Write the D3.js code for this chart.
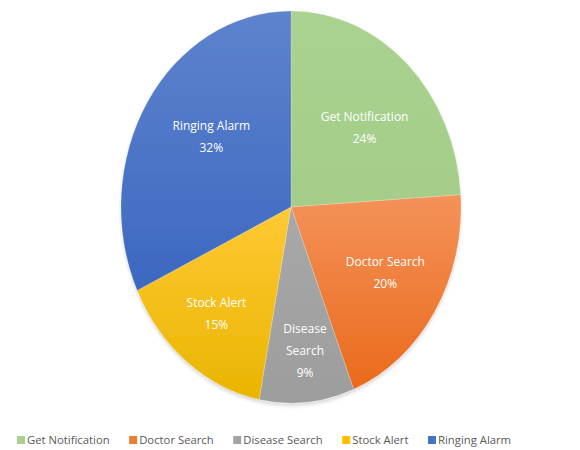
<!DOCTYPE html>
<html>
<head>
<meta charset="utf-8">
<script src="https://cdn.jsdelivr.net/npm/d3@7"></script>
<style>
  body { margin: 0; background: #fff; }
  svg { display: block; font-family: "Open Sans", "Noto Sans", sans-serif; }
</style>
</head>
<body>
<script>
// data
const categories = ["Get Notification", "Doctor Search", "Disease Search", "Stock Alert", "Ringing Alarm"];
const values = [24, 20, 9, 15, 32];
const colorTop = ["#aad290", "#f4925a", "#a8a8a8", "#ffc935", "#5e83cd"];
const colorBottom = ["#a5cd89", "#ea6a1b", "#9d9d9d", "#e9b500", "#3c68c1"];
const legendColors = ["#a9d18e", "#ed7d31", "#a5a5a5", "#ffc000", "#4472c4"];

const width = 580, height = 450;
const cx = 291, cy = 207, rx = 170, ry = 196;

const svg = d3.select("body").append("svg")
  .attr("width", width)
  .attr("height", height);

const defs = svg.append("defs");

//vertical gradient per slice
categories.forEach((c, i) => {
  const g = defs.append("linearGradient")
    .attr("id", "grad" + i)
    .attr("x1", 0).attr("y1", 0).attr("x2", 0).attr("y2", 1);
  g.append("stop").attr("offset", "0%").attr("stop-color", colorTop[i]);
  g.append("stop").attr("offset", "100%").attr("stop-color", colorBottom[i]);
});

//soft shadow
const f = defs.append("filter").attr("id", "shadow")
  .attr("x", "-10%").attr("y", "-10%").attr("width", "120%").attr("height", "120%");
f.append("feDropShadow")
  .attr("dx", 0).attr("dy", 2).attr("stdDeviation", 2)
  .attr("flood-color", "#000").attr("flood-opacity", 0.2);

const pie = d3.pie().sort(null).value((d) => d.value);
const arcs = pie(categories.map((c, i) => ({ name: c, value: values[i], idx: i })));

const arc = d3.arc().innerRadius(0).outerRadius(ry);

//pie drawn as a circle, stretched into an ellipse
const g = svg.append("g")
  .attr("transform", `translate(${cx},${cy}) scale(${rx / ry},1)`)
  .attr("filter", "url(#shadow)");

g.selectAll("path")
  .data(arcs)
  .enter()
  .append("path")
  .attr("d", arc)
  .attr("fill", (d) => `url(#grad${d.data.idx})`)
  .attr("stroke", "rgba(255,255,255,0.35)")
  .attr("stroke-width", 0.6);

//label fit: radius fraction and angle nudge (degrees), like excel's best fit
const labelFit = [[0.59, 4], [0.65, -1], [0.74, -1], [0.7, 1], [0.59, 5]];

const labels = svg.append("g").attr("transform", `translate(${cx},${cy})`);

arcs.forEach((d) => {
  const [rf, nudge] = labelFit[d.data.idx];
  const a = (d.startAngle + d.endAngle) / 2 + (nudge * Math.PI) / 180;
  const x = Math.sin(a) * rx * rf;
  const y = -Math.cos(a) * ry * rf;
  //split long names over lines for the narrow slice
  const lines = d.data.value < 10 ? d.data.name.split(" ") : [d.data.name];
  lines.push(d.data.value + "%");
  const lh = 22;
  const y0 = y - ((lines.length - 1) * lh) / 2;
  const t = labels.append("text")
    .attr("text-anchor", "middle")
    .attr("fill", "#fff")
    .style("font-size", "12px");
  lines.forEach((l, j) => {
    t.append("tspan")
      .attr("x", x)
      .attr("y", y0 + j * lh + 4)
      .text(l);
  });
});

//legend
const legend = svg.append("g").attr("transform", "translate(17,440)");
let lx = 0;
categories.forEach((c, i) => {
  const item = legend.append("g").attr("transform", `translate(${lx},0)`);
  item.append("rect")
    .attr("x", 0).attr("y", -4)
    .attr("width", 8).attr("height", 8)
    .attr("fill", legendColors[i]);
  const txt = item.append("text")
    .attr("x", 10).attr("y", 4)
    .attr("fill", "#595959")
    .style("font-size", "11.3px")
    .text(c);
  lx += 10 + txt.node().getComputedTextLength() + 19.5;
});
</script>
</body>
</html>
